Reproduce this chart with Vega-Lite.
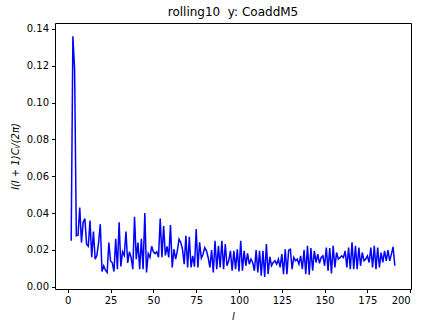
{
  "$schema": "https://vega.github.io/schema/vega-lite/v6.json",
  "width": 356,
  "height": 266,
  "autosize": "none",
  "padding": {"left": 55, "top": 23, "right": 16, "bottom": 40},
  "background": "white",
  "title": {"text": "rolling10\u00a0 y: CoaddM5", "font": "DejaVu Sans", "fontSize": 12, "fontWeight": "normal", "color": "black", "offset": 4, "anchor": "middle"},
  "config": {
    "view": {"stroke": "black", "strokeWidth": 1},
    "axis": {"grid": false, "domain": false, "tickColor": "black", "tickSize": 3.5, "labelFont": "DejaVu Sans", "labelFontSize": 10, "labelColor": "black", "labelPadding": 3, "titleFont": "DejaVu Sans", "titleFontSize": 10, "titleFontWeight": "normal", "titleColor": "black"}
  },
  "data": {"values": [
    {"l":2,"c":0.025},{"l":3,"c":0.136},{"l":4,"c":0.118},{"l":5,"c":0.0277},{"l":6,"c":0.028},{"l":7,"c":0.043},{"l":8,"c":0.024},{"l":9,"c":0.035},{"l":10,"c":0.037},
    {"l":11,"c":0.023},{"l":12,"c":0.022},{"l":13,"c":0.036},{"l":14,"c":0.016},{"l":15,"c":0.030},{"l":16,"c":0.015},{"l":17,"c":0.017},{"l":18,"c":0.024},{"l":19,"c":0.034},{"l":20,"c":0.0083},
    {"l":21,"c":0.0114},{"l":22,"c":0.009},{"l":23,"c":0.0078},{"l":24,"c":0.024},{"l":25,"c":0.014},{"l":26,"c":0.013},{"l":27,"c":0.0083},{"l":28,"c":0.026},{"l":29,"c":0.0096},{"l":30,"c":0.035},
    {"l":31,"c":0.011},{"l":32,"c":0.019},{"l":33,"c":0.017},{"l":34,"c":0.030},{"l":35,"c":0.013},{"l":36,"c":0.019},{"l":37,"c":0.016},{"l":38,"c":0.0096},{"l":39,"c":0.038},{"l":40,"c":0.015},
    {"l":41,"c":0.024},{"l":42,"c":0.0096},{"l":43,"c":0.026},{"l":44,"c":0.0096},{"l":45,"c":0.040},{"l":46,"c":0.0078},{"l":47,"c":0.018},{"l":48,"c":0.016},{"l":49,"c":0.022},{"l":50,"c":0.019},
    {"l":51,"c":0.018},{"l":52,"c":0.019},{"l":53,"c":0.016},{"l":54,"c":0.037},{"l":55,"c":0.016},{"l":56,"c":0.033},{"l":57,"c":0.017},{"l":58,"c":0.022},{"l":59,"c":0.016},{"l":60,"c":0.0335},
    {"l":61,"c":0.0105},{"l":62,"c":0.0204},{"l":63,"c":0.015},{"l":64,"c":0.0195},{"l":65,"c":0.0259},{"l":66,"c":0.0241},{"l":67,"c":0.0204},{"l":68,"c":0.0123},{"l":69,"c":0.0277},{"l":70,"c":0.0105},
    {"l":71,"c":0.0271},{"l":72,"c":0.0105},{"l":73,"c":0.0168},{"l":74,"c":0.0109},{"l":75,"c":0.0313},{"l":76,"c":0.0105},{"l":77,"c":0.0241},{"l":78,"c":0.0156},{"l":79,"c":0.0177},{"l":80,"c":0.0213},
    {"l":81,"c":0.0195},{"l":82,"c":0.0159},{"l":83,"c":0.0105},{"l":84,"c":0.0199},{"l":85,"c":0.0078},{"l":86,"c":0.025},{"l":87,"c":0.0096},{"l":88,"c":0.0222},{"l":89,"c":0.0105},{"l":90,"c":0.025},
    {"l":91,"c":0.0096},{"l":92,"c":0.0232},{"l":93,"c":0.0114},{"l":94,"c":0.0141},{"l":95,"c":0.0195},{"l":96,"c":0.0087},{"l":97,"c":0.0195},{"l":98,"c":0.0096},{"l":99,"c":0.0204},{"l":100,"c":0.0083},
    {"l":101,"c":0.025},{"l":102,"c":0.0087},{"l":103,"c":0.0195},{"l":104,"c":0.0114},{"l":105,"c":0.0181},{"l":106,"c":0.0123},{"l":107,"c":0.015},{"l":108,"c":0.0132},{"l":109,"c":0.0087},{"l":110,"c":0.0199},
    {"l":111,"c":0.0078},{"l":112,"c":0.0195},{"l":113,"c":0.006},{"l":114,"c":0.0195},{"l":115,"c":0.0054},{"l":116,"c":0.0232},{"l":117,"c":0.0069},{"l":118,"c":0.0163},{"l":119,"c":0.0114},{"l":120,"c":0.0132},
    {"l":121,"c":0.0141},{"l":122,"c":0.0123},{"l":123,"c":0.015},{"l":124,"c":0.0105},{"l":125,"c":0.0177},{"l":126,"c":0.0069},{"l":127,"c":0.0204},{"l":128,"c":0.0069},{"l":129,"c":0.0199},{"l":130,"c":0.0204},
    {"l":131,"c":0.0096},{"l":132,"c":0.0159},{"l":133,"c":0.0141},{"l":134,"c":0.015},{"l":135,"c":0.0123},{"l":136,"c":0.0168},{"l":137,"c":0.0096},{"l":138,"c":0.0199},{"l":139,"c":0.0069},{"l":140,"c":0.0222},
    {"l":141,"c":0.0065},{"l":142,"c":0.021},{"l":143,"c":0.0087},{"l":144,"c":0.0195},{"l":145,"c":0.0132},{"l":146,"c":0.0177},{"l":147,"c":0.0127},{"l":148,"c":0.0159},{"l":149,"c":0.0168},{"l":150,"c":0.0114},
    {"l":151,"c":0.0213},{"l":152,"c":0.0087},{"l":153,"c":0.021},{"l":154,"c":0.0072},{"l":155,"c":0.0222},{"l":156,"c":0.0105},{"l":157,"c":0.0186},{"l":158,"c":0.015},{"l":159,"c":0.0159},{"l":160,"c":0.0168},
    {"l":161,"c":0.0159},{"l":162,"c":0.0195},{"l":163,"c":0.0105},{"l":164,"c":0.0213},{"l":165,"c":0.0096},{"l":166,"c":0.0241},{"l":167,"c":0.0096},{"l":168,"c":0.0222},{"l":169,"c":0.0096},{"l":170,"c":0.0213},
    {"l":171,"c":0.0114},{"l":172,"c":0.0186},{"l":173,"c":0.0141},{"l":174,"c":0.015},{"l":175,"c":0.0168},{"l":176,"c":0.0132},{"l":177,"c":0.0213},{"l":178,"c":0.0105},{"l":179,"c":0.0222},{"l":180,"c":0.0096},
    {"l":181,"c":0.0213},{"l":182,"c":0.0105},{"l":183,"c":0.0186},{"l":184,"c":0.0132},{"l":185,"c":0.0195},{"l":186,"c":0.0141},{"l":187,"c":0.0199},{"l":188,"c":0.0141},{"l":189,"c":0.0177},{"l":190,"c":0.0217},
    {"l":191,"c":0.0114}
  ]},
  "mark": {"type": "line", "color": "#0000ff", "strokeWidth": 1.5, "clip": true},
  "encoding": {
    "x": {"field": "l", "type": "quantitative", "scale": {"domain": [-7.45, 200.45], "nice": false, "zero": false},
      "axis": {"values": [0, 25, 50, 75, 100, 125, 150, 175, 200], "format": "d", "title": "l", "titleFontStyle": "italic", "titlePadding": 6}},
    "y": {"field": "c", "type": "quantitative", "scale": {"domain": [-0.0012, 0.1432], "nice": false, "zero": false},
      "axis": {"values": [0, 0.02, 0.04, 0.06, 0.08, 0.1, 0.12, 0.14], "format": ".2f", "title": "l(l + 1)Cₗ/(2π)", "titleFontStyle": "italic", "titlePadding": 6}}
  }
}
